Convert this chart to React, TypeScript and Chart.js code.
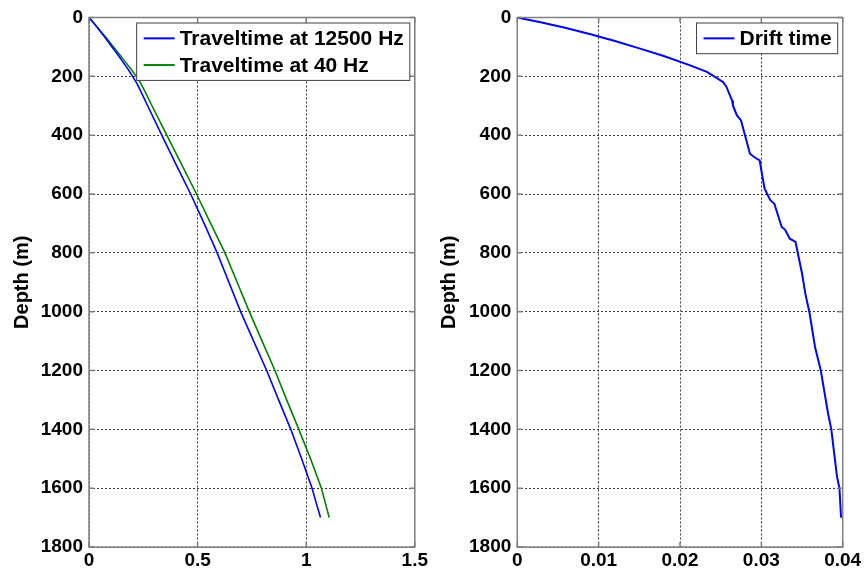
import React, { useEffect, useRef } from "react";
import { Chart, registerables } from "chart.js";

Chart.register(...registerables);

// ---------- data ----------
const ttDepth = [0, 25, 50, 75, 100, 125, 150, 175, 200, 225, 250, 300, 400, 500, 600, 700, 800, 900, 1000, 1100, 1200, 1300, 1400, 1500, 1600, 1650, 1700];
const tt12500 = [0, 0.028, 0.055, 0.081, 0.106, 0.131, 0.155, 0.179, 0.201, 0.221, 0.238, 0.27, 0.335, 0.401, 0.468, 0.53, 0.59, 0.644, 0.698, 0.758, 0.818, 0.873, 0.929, 0.979, 1.027, 1.046, 1.066];
const tt40 = [0, 0.029, 0.058, 0.086, 0.113, 0.14, 0.166, 0.193, 0.218, 0.239, 0.257, 0.29, 0.358, 0.427, 0.495, 0.56, 0.626, 0.682, 0.738, 0.797, 0.856, 0.91, 0.966, 1.02, 1.07, 1.088, 1.106];

const driftDepth = [0, 17, 36, 57, 80, 105, 131, 160, 185, 205, 220, 235, 282, 299, 333, 350, 401, 463, 476, 486, 520, 582, 621, 633, 712, 721, 752, 763, 803, 870, 938, 1001, 1120, 1199, 1346, 1400, 1561, 1600, 1700];
const driftTime = [0, 0.003, 0.006, 0.009, 0.012, 0.015, 0.018, 0.021, 0.0233, 0.0245, 0.0253, 0.0257, 0.0264, 0.0265, 0.027, 0.0275, 0.028, 0.0286, 0.0292, 0.0298, 0.03, 0.0304, 0.0311, 0.0316, 0.0325, 0.0329, 0.0335, 0.0342, 0.0345, 0.035, 0.0354, 0.0359, 0.0366, 0.0373, 0.0382, 0.0386, 0.0393, 0.0396, 0.0398];

const yTicks = [0, 200, 400, 600, 800, 1000, 1200, 1400, 1600, 1800];
const xTicksLeft = [0, 0.5, 1, 1.5];
const xTicksRight = [0, 0.01, 0.02, 0.03, 0.04];

const yTitle = "Depth (m)";
const legendLeft = ["Traveltime at 12500 Hz", "Traveltime at 40 Hz"];
const legendRight = ["Drift time"];

const FONT = "'Liberation Sans', Arial, Helvetica, sans-serif";

// ---------- plugin: MATLAB-like box, inward ticks, boxed legend ----------
const framePlugin = {
  id: "matlabFrame",
  afterDatasetsDraw(chart: any) {
    const { ctx, chartArea: a, scales } = chart;
    ctx.save();
    ctx.strokeStyle = "#7f7f7f";
    ctx.lineWidth = 1.5;
    ctx.beginPath();
    scales.x.ticks.forEach((t: any) => {
      const px = scales.x.getPixelForValue(t.value);
      ctx.moveTo(px, a.bottom);
      ctx.lineTo(px, a.bottom - 5);
      ctx.moveTo(px, a.top);
      ctx.lineTo(px, a.top + 5);
    });
    scales.y.ticks.forEach((t: any) => {
      const py = scales.y.getPixelForValue(t.value);
      ctx.moveTo(a.left, py);
      ctx.lineTo(a.left + 5, py);
      ctx.moveTo(a.right, py);
      ctx.lineTo(a.right - 5, py);
    });
    ctx.stroke();
    ctx.strokeRect(a.left, a.top, a.right - a.left, a.bottom - a.top);

    // legend
    const ds = chart.data.datasets;
    ctx.font = `bold 21px ${FONT}`;
    const maxW = Math.max(...ds.map((d: any) => ctx.measureText(d.label).width));
    const rowH = 26.7;
    const w = 7 + 31 + 5 + maxW + 6;
    const h = ds.length * rowH + 4;
    const right = a.right - 5;
    const top = a.top + 5.5;
    const left = right - w;
    ctx.fillStyle = "#ffffff";
    ctx.fillRect(left, top, w, h);
    ctx.strokeStyle = "#404040";
    ctx.lineWidth = 1;
    ctx.strokeRect(left, top, w, h);
    ds.forEach((d: any, i: number) => {
      const cy = top + 2 + rowH * (i + 0.5);
      ctx.strokeStyle = d.borderColor;
      ctx.lineWidth = 2;
      ctx.beginPath();
      ctx.moveTo(left + 7, cy);
      ctx.lineTo(left + 38, cy);
      ctx.stroke();
      ctx.fillStyle = "#000";
      ctx.textBaseline = "middle";
      ctx.textAlign = "left";
      ctx.fillText(d.label, left + 43, cy + 1);
    });
    ctx.restore();
  },
};

function makeOptions(xMin: number, xMax: number, xTicks: number[], yWidth: number, padRight: number, titlePad: number) {
  return {
    animation: false,
    responsive: false,
    maintainAspectRatio: false,
    layout: { padding: { left: 0, right: padRight, top: 17.5, bottom: 0 } },
    plugins: { legend: { display: false }, tooltip: { enabled: false } },
    elements: { point: { radius: 0 } },
    scales: {
      x: {
        type: "linear",
        min: xMin,
        max: xMax,
        afterBuildTicks: (s: any) => {
          s.ticks = xTicks.map((v) => ({ value: v }));
        },
        afterFit: (s: any) => {
          s.height = 26;
        },
        grid: { color: "#3a3a3a", lineWidth: 1, drawTicks: false },
        border: { display: false, dash: [2, 2] },
        ticks: {
          autoSkip: false,
          maxRotation: 0,
          padding: 2,
          color: "#000",
          font: { family: FONT, size: 19, weight: "bold" },
          callback: (v: any) => String(v),
        },
      },
      y: {
        type: "linear",
        reverse: true,
        min: 0,
        max: 1800,
        afterBuildTicks: (s: any) => {
          s.ticks = yTicks.map((v) => ({ value: v }));
        },
        afterFit: (s: any) => {
          s.width = yWidth;
        },
        grid: { color: "#3a3a3a", lineWidth: 1, drawTicks: false },
        border: { display: false, dash: [2, 2] },
        ticks: {
          autoSkip: false,
          padding: 6,
          color: "#000",
          font: { family: FONT, size: 19, weight: "bold" },
          callback: (v: any) => String(v),
        },
        title: {
          display: true,
          text: yTitle,
          color: "#000",
          font: { family: FONT, size: 20, weight: "bold" },
          padding: { top: titlePad, bottom: 0 },
        },
      },
    },
  };
}

function ChartCanvas({ config, width, height, left }: any) {
  const ref = useRef<HTMLCanvasElement | null>(null);
  useEffect(() => {
    if (!ref.current) return;
    const chart = new Chart(ref.current, config);
    return () => chart.destroy();
  }, []);
  return (
    <canvas
      ref={ref}
      width={width}
      height={height}
      style={{ position: "absolute", left, top: 0, width, height }}
    />
  );
}

export default function App() {
  const leftConfig: any = {
    type: "scatter",
    data: {
      datasets: [
        {
          label: legendLeft[0],
          data: ttDepth.map((d, i) => ({ x: tt12500[i], y: d })),
          borderColor: "#0000ff",
          backgroundColor: "#0000ff",
          borderWidth: 1.6,
          showLine: true,
          pointRadius: 0,
        },
        {
          label: legendLeft[1],
          data: ttDepth.map((d, i) => ({ x: tt40[i], y: d })),
          borderColor: "#008000",
          backgroundColor: "#008000",
          borderWidth: 1.6,
          showLine: true,
          pointRadius: 0,
        },
      ],
    },
    options: makeOptions(0, 1.5, xTicksLeft, 89, 15, 10.3),
    plugins: [framePlugin],
  };

  const rightConfig: any = {
    type: "scatter",
    data: {
      datasets: [
        {
          label: legendRight[0],
          data: driftDepth.map((d, i) => ({ x: driftTime[i], y: d })),
          borderColor: "#0000ff",
          backgroundColor: "#0000ff",
          borderWidth: 2,
          showLine: true,
          pointRadius: 0,
        },
      ],
    },
    options: makeOptions(0, 0.04, xTicksRight, 92.3, 22.3, 12),
    plugins: [framePlugin],
  };

  return (
    <div style={{ position: "absolute", left: 0, top: 0, width: 865, height: 573, background: "#fff" }}>
      <ChartCanvas config={leftConfig} width={430} height={573} left={0} />
      <ChartCanvas config={rightConfig} width={440} height={573} left={425} />
    </div>
  );
}
